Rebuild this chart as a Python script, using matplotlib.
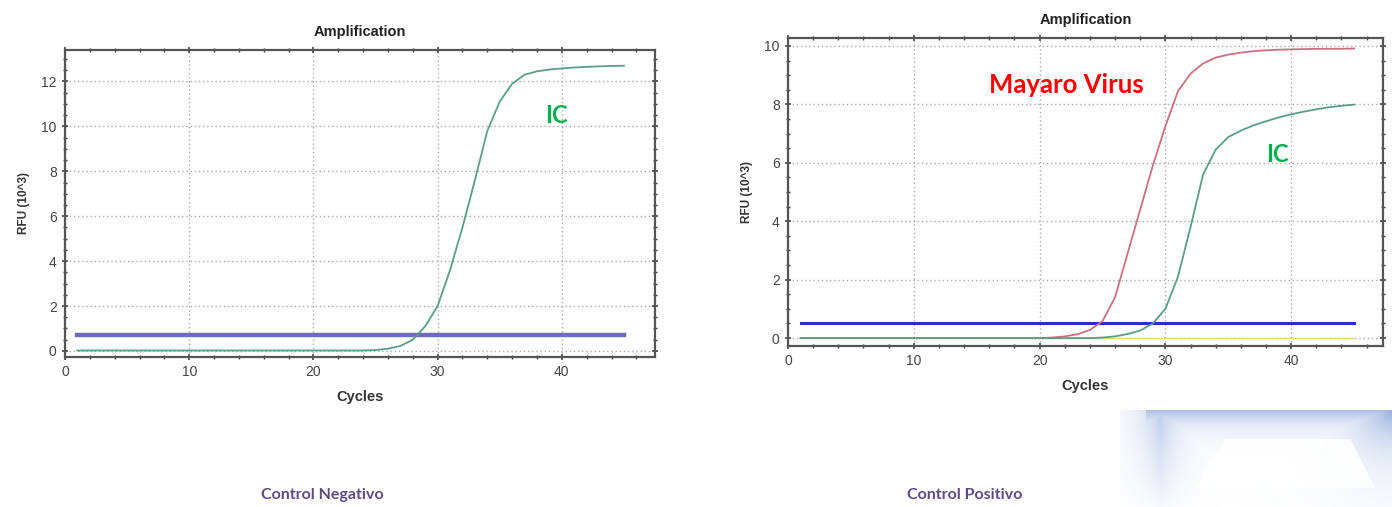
import numpy as np
import matplotlib.pyplot as plt
from matplotlib.ticker import MultipleLocator

# cycles 1..45
cycles = list(range(1, 46))

# Control Negativo: internal control (IC) curve, RFU (10^3)
neg_ic = [0.02] * 24 + [
    0.04, 0.1, 0.22, 0.5, 1.1, 2.0, 3.6, 5.5, 7.6, 9.8, 11.1,
    11.9, 12.3, 12.45, 12.53, 12.58, 12.62, 12.65, 12.67, 12.69, 12.7,
]
neg_threshold = 0.7

# Control Positivo: Mayaro virus + IC
pos_mayaro = [0.0] * 20 + [
    0.02, 0.06, 0.13, 0.28, 0.58, 1.4, 2.9, 4.4, 5.9, 7.25, 8.45, 9.05,
    9.4, 9.6, 9.7, 9.77, 9.82, 9.85, 9.87, 9.88, 9.89, 9.9, 9.9, 9.9, 9.91,
]
pos_ic = [0.0] * 24 + [
    0.02, 0.06, 0.14, 0.26, 0.5, 1.0, 2.1, 3.8, 5.6, 6.45, 6.88, 7.1,
    7.28, 7.42, 7.55, 7.66, 7.75, 7.83, 7.9, 7.95, 7.99,
]
pos_baseline = [0.0] * 45
pos_threshold = 0.5

IC_COLOR = "#5a9e86"
MAYARO_COLOR = "#c9717f"
LABEL_FONT = ["Lato", "DejaVu Sans"]
plt.rcParams["font.family"] = ["Liberation Sans", "DejaVu Sans"]


def style_axes(ax, xmax, ylim):
    ax.set_xlim(0, xmax)
    ax.set_ylim(*ylim)
    ax.xaxis.set_major_locator(MultipleLocator(10))
    ax.xaxis.set_minor_locator(MultipleLocator(2))
    ax.yaxis.set_major_locator(MultipleLocator(2))
    ax.yaxis.set_minor_locator(MultipleLocator(0.5))
    ax.tick_params(which="both", direction="inout", top=True, right=True,
                   color="#444444", labelsize=10, labelcolor="#444444")
    ax.tick_params(which="major", length=5, width=1.2)
    ax.tick_params(which="minor", length=3, width=1.0)
    ax.grid(True, which="major", linestyle=(0, (1, 2)), color="#aaaaaa", linewidth=1.0)
    for sp in ax.spines.values():
        sp.set_linewidth(1.6)
        sp.set_color("#555555")
    ax.set_title("Amplification", fontsize=10.5, fontweight="bold", color="#222222", pad=10)
    ax.set_xlabel("Cycles", fontsize=10.5, fontweight="bold", color="#333333", labelpad=8)
    ax.set_ylabel("RFU (10^3)", fontsize=8.5, fontweight="bold", color="#333333", labelpad=8)


fig = plt.figure(figsize=(13.92, 5.07), dpi=100)

# left panel: negative control
ax1 = fig.add_axes([65 / 1392, 1 - 357 / 507, 590 / 1392, 307 / 507])
ax1.plot(cycles, [neg_threshold] * len(cycles), color="#6c6cb8", linewidth=3.2)
ax1.plot(cycles, neg_ic, color=IC_COLOR, linewidth=1.3)
style_axes(ax1, 47.5, (-0.27, 13.4))
ax1.text(39.6, 10.5, "IC", color="#00b050", fontsize=17, fontweight="bold",
         family=LABEL_FONT, ha="center", va="center")

# right panel: positive control
ax2 = fig.add_axes([788 / 1392, 1 - 346 / 507, 595 / 1392, 308 / 507])
ax2.plot(cycles, pos_baseline, color="#e8d98a", linewidth=1.0)
ax2.plot(cycles, [pos_threshold] * len(cycles), color="#2b2bd6", linewidth=2.2)
ax2.plot(cycles, pos_mayaro, color=MAYARO_COLOR, linewidth=1.3)
ax2.plot(cycles, pos_ic, color=IC_COLOR, linewidth=1.3)
style_axes(ax2, 47.3, (-0.27, 10.27))
ax2.text(22.1, 8.65, "Mayaro Virus", color="#ff0000", fontsize=18.5, fontweight="bold",
         family=LABEL_FONT, ha="center", va="center")
ax2.text(38.9, 6.27, "IC", color="#00b050", fontsize=17, fontweight="bold",
         family=LABEL_FONT, ha="center", va="center")

# captions
fig.text(322 / 1392, 1 - 495 / 507, "Control Negativo", color="#5e4b86", fontsize=11.5,
         fontweight="bold", family=LABEL_FONT, ha="center", va="center")
fig.text(965 / 1392, 1 - 495 / 507, "Control Positivo", color="#5e4b86", fontsize=11.5,
         fontweight="bold", family=LABEL_FONT, ha="center", va="center")

# faint logo-like fragment in the bottom-right corner
axd = fig.add_axes([1120 / 1392, 0, 272 / 1392, 97 / 507])
h, w = 97, 272
yy, xx = np.mgrid[0:h, 0:w]
top = np.exp(-yy / 14.0) * (xx > 25)
left = np.exp(-np.abs(xx - 40) / 22.0) * np.clip(1 - yy / 110.0, 0, 1)
corner = np.exp(-np.hypot(xx - w, yy) / 35.0)
inner = (yy > 28) & (yy < 78) & (xx > 75 + (78 - yy) * 0.6) & (xx < 255 - (78 - yy) * 0.5)
alpha = np.clip(np.maximum.reduce([top * 0.55, left * 0.45, corner * 0.7]), 0, 1)
alpha[inner] *= 0.15
rgba = np.zeros((h, w, 4))
rgba[..., 0], rgba[..., 1], rgba[..., 2] = 0.42, 0.55, 0.80
rgba[..., 3] = alpha
axd.imshow(rgba, aspect="auto", interpolation="bilinear")
axd.axis("off")

fig.savefig("out.png", dpi=100)
